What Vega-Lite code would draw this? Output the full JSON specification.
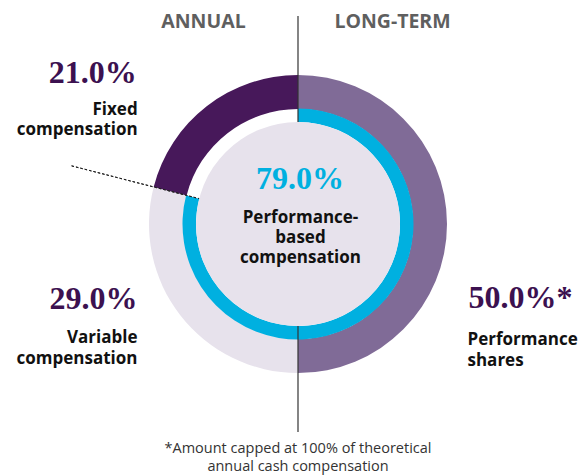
{
  "$schema": "https://vega.github.io/schema/vega-lite/v6.json",
  "width": 568,
  "height": 416,
  "autosize": {"type": "none"},
  "padding": {"left": 14, "top": 16, "right": 0, "bottom": 43},
  "background": "white",
  "config": {"view": {"stroke": null}},
  "title": {
    "text": ["*Amount capped at 100% of theoretical", "annual cash compensation"],
    "orient": "bottom",
    "anchor": "middle",
    "font": "Open Sans",
    "fontSize": 14.5,
    "fontWeight": "normal",
    "color": "#333333",
    "lineHeight": 18,
    "offset": 9
  },
  "data": {
    "values": [
      {"component": "Performance shares", "term": "LONG-TERM", "share": 0.50, "ord": 1, "note": "*", "label": ["Performance", "shares"]},
      {"component": "Variable compensation", "term": "ANNUAL", "share": 0.29, "ord": 2, "note": "", "label": ["Variable", "compensation"]},
      {"component": "Fixed compensation", "term": "ANNUAL", "share": 0.21, "ord": 3, "note": "", "label": ["Fixed", "compensation"]}
    ]
  },
  "layer": [
    {
      "mark": {"type": "arc", "radius": 149, "radius2": 115},
      "encoding": {
        "theta": {"field": "share", "type": "quantitative", "stack": true},
        "order": {"field": "ord"},
        "color": {
          "field": "component",
          "type": "nominal",
          "scale": {
            "domain": ["Performance shares", "Variable compensation", "Fixed compensation"],
            "range": ["#806b97", "#e7e2ec", "#47185a"]
          },
          "legend": null
        }
      }
    },
    {
      "transform": [
        {"filter": "datum.component != 'Fixed compensation'"},
        {"aggregate": [{"op": "sum", "field": "share", "as": "share"}]}
      ],
      "mark": {"type": "arc", "radius": 115.5, "radius2": 102, "color": "#00b0e0"},
      "encoding": {"theta": {"field": "share", "type": "quantitative", "stack": true}}
    },
    {
      "transform": [
        {"filter": "datum.component != 'Fixed compensation'"},
        {"aggregate": [{"op": "sum", "field": "share", "as": "share"}]}
      ],
      "mark": {"type": "arc", "radius": 233.75, "radius2": 102, "filled": false, "stroke": "#222222", "strokeWidth": 1, "strokeDash": [2.5, 2]},
      "encoding": {
        "theta": {"field": "share", "type": "quantitative", "stack": null},
        "theta2": {"field": "share"}
      }
    },
    {
      "transform": [{"aggregate": [{"op": "count", "as": "n"}]}],
      "mark": {"type": "rule", "color": "#333333", "strokeWidth": 1.2},
      "encoding": {
        "x": {
          "datum": " ",
          "type": "nominal",
          "scale": {"type": "point", "domain": ["ANNUAL", " ", "LONG-TERM"], "padding": 1},
          "axis": {
            "orient": "top",
            "title": null,
            "domain": false,
            "ticks": false,
            "grid": false,
            "labelPadding": -11,
            "labelOffset": {"expr": "datum.value == 'ANNUAL' ? 47 : -48"},
            "labelBaseline": "alphabetic",
            "labelFont": "Open Sans",
            "labelFontWeight": "bold",
            "labelFontSize": 19.5,
            "labelColor": "#5f5f5f",
            "labelAngle": 0
          }
        }
      }
    },
    {
      "transform": [{"aggregate": [{"op": "sum", "field": "share", "as": "share"}]}],
      "mark": {"type": "arc", "radius": 102, "color": "#e7e2ec"},
      "encoding": {"theta": {"field": "share", "type": "quantitative", "stack": true}}
    },
    {
      "transform": [{"calculate": "format(datum.share, '.1%') + datum.note", "as": "pct"}],
      "mark": {
        "type": "text",
        "radius": 149,
        "font": "Liberation Serif",
        "fontWeight": "bold",
        "fontSize": 32,
        "color": "#3c1150",
        "baseline": "alphabetic",
        "align": {"expr": "datum.term == 'ANNUAL' ? 'right' : 'left'"},
        "dx": {"expr": "datum.ord == 1 ? 21.5 : datum.ord == 2 ? -42.8 : -70"},
        "dy": {"expr": "datum.ord == 1 ? 84 : datum.ord == 2 ? -6.3 : -23.3"}
      },
      "encoding": {
        "theta": {"field": "share", "type": "quantitative", "stack": true},
        "order": {"field": "ord"},
        "text": {"field": "pct"}
      }
    },
    {
      "mark": {
        "type": "text",
        "radius": 149,
        "font": "Open Sans",
        "fontWeight": "bold",
        "fontSize": 17,
        "lineHeight": 20.5,
        "color": "#111111",
        "baseline": "alphabetic",
        "align": {"expr": "datum.term == 'ANNUAL' ? 'right' : 'left'"},
        "dx": {"expr": "datum.ord == 1 ? 20.5 : datum.ord == 2 ? -42.8 : -69"},
        "dy": {"expr": "datum.ord == 1 ? 121 : datum.ord == 2 ? 27.7 : 8.7"}
      },
      "encoding": {
        "theta": {"field": "share", "type": "quantitative", "stack": true},
        "order": {"field": "ord"},
        "text": {"field": "label"}
      }
    },
    {
      "transform": [
        {"filter": "datum.component != 'Fixed compensation'"},
        {"aggregate": [{"op": "sum", "field": "share", "as": "share"}]}
      ],
      "mark": {
        "type": "text",
        "font": "Liberation Serif",
        "fontWeight": "bold",
        "fontSize": 32,
        "color": "#00b0e0",
        "baseline": "alphabetic",
        "align": "center",
        "dx": 2,
        "dy": -35
      },
      "encoding": {"text": {"field": "share", "type": "quantitative", "format": ".1%"}}
    },
    {
      "transform": [
        {"filter": "datum.component != 'Fixed compensation'"},
        {"aggregate": [{"op": "sum", "field": "share", "as": "share"}]}
      ],
      "mark": {
        "type": "text",
        "text": ["Performance-", "based", "compensation"],
        "font": "Open Sans",
        "fontWeight": "bold",
        "fontSize": 17,
        "lineHeight": 20,
        "color": "#111111",
        "baseline": "alphabetic",
        "align": "center",
        "dx": 2.5,
        "dy": -1
      },
      "encoding": {}
    }
  ]
}
